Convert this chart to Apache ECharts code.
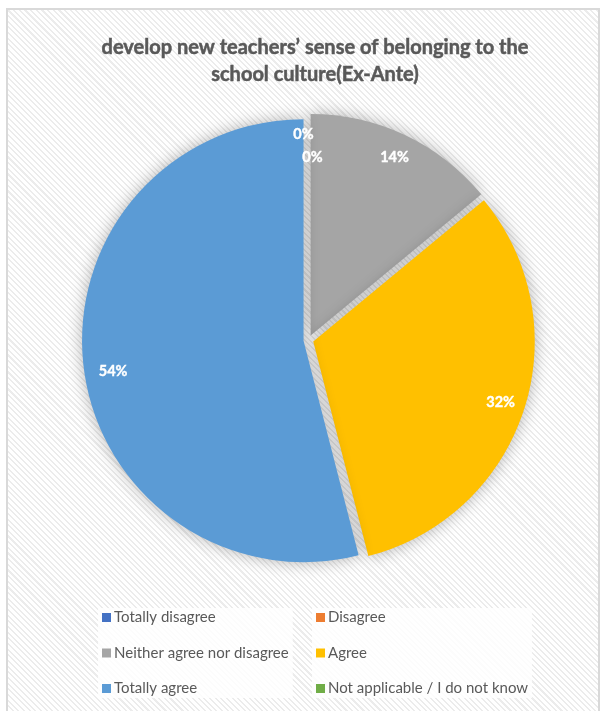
<!DOCTYPE html>
<html>
<head>
<meta charset="utf-8">
<script src="https://cdn.jsdelivr.net/npm/echarts@6/dist/echarts.min.js"></script>
<style>
  html, body { margin: 0; padding: 0; background: #ffffff; }
  #frame {
    position: absolute; left: 6px; top: 8px; width: 594px; height: 710px;
    border: 2px solid #d9d9d9; box-sizing: border-box;
    background: repeating-linear-gradient(45deg, #ffffff 0px, #ffffff 2.5px, #ececec 2.5px, #ececec 4px);
  }
  #chart { position: absolute; left: 0; top: 0; width: 606px; height: 711px; }
</style>
</head>
<body>
<div id="frame"></div>
<div id="chart"></div>
<script>
const titleText = "develop new teachers’ sense of belonging to the\nschool culture(Ex-Ante)";
const categories = ["Totally disagree", "Disagree", "Neither agree nor disagree", "Agree", "Totally agree", "Not applicable / I do not know"];
const values = [0, 0, 14, 32, 54, 0];
const colors = ["#4472C4", "#ED7D31", "#A5A5A5", "#FFC000", "#5B9BD5", "#70AD47"];
const labelOffsets = [[-5, -4], [4, 19], [0, 0], [0, 0], [5, 6], [-5, -4]];

const chart = echarts.init(document.getElementById('chart'), null, { renderer: 'canvas' });

const center = [308.5, 340];

const mainData = categories.map((c, i) => ({
  name: c, value: values[i], selected: true,
  itemStyle: { color: colors[i] }
}));
const labelData = categories.map((c, i) => ({
  name: c, value: values[i],
  label: { offset: labelOffsets[i] }
}));

const legendText = { fontFamily: 'Lato', fontSize: 15, color: '#595959', padding: [0, 0, 0, -2] };

chart.setOption({
  animation: false,
  backgroundColor: 'transparent',
  title: {
    text: titleText,
    left: 310, top: 29, textAlign: 'center',
    textStyle: { fontFamily: 'Lato', fontSize: 20, fontWeight: 'bold', color: '#595959', lineHeight: 27,
                 textBorderColor: '#595959', textBorderWidth: 0.5 }
  },
  legend: [
    {
      orient: 'vertical', left: 98, top: 608, itemGap: 20.5,
      itemWidth: 9, itemHeight: 9, icon: 'rect',
      textStyle: legendText,
      backgroundColor: 'rgba(255,255,255,0.85)',
      padding: [2, 4, 2, 4],
      data: [0, 2, 4].map(i => ({ name: categories[i], itemStyle: { color: colors[i] } }))
    },
    {
      orient: 'vertical', left: 312, top: 608, itemGap: 20.5,
      itemWidth: 9, itemHeight: 9, icon: 'rect',
      textStyle: legendText,
      backgroundColor: 'rgba(255,255,255,0.85)',
      padding: [2, 4, 2, 4],
      data: [1, 3, 5].map(i => ({ name: categories[i], itemStyle: { color: colors[i] } }))
    }
  ],
  series: [
    {
      type: 'pie',
      center: center,
      radius: [0, 221.5],
      startAngle: 90,
      clockwise: true,
      selectedMode: 'multiple',
      selectedOffset: 5,
      avoidLabelOverlap: false,
      label: { show: false },
      labelLine: { show: false },
      emphasis: { disabled: true },
      itemStyle: { shadowBlur: 16, shadowColor: 'rgba(0,0,0,0.3)' },
      data: mainData
    },
    {
      type: 'pie',
      center: center,
      radius: [0, 398],
      startAngle: 90,
      clockwise: true,
      silent: true,
      z: 5,
      avoidLabelOverlap: false,
      itemStyle: { color: 'rgba(0,0,0,0)' },
      emphasis: { disabled: true },
      label: {
        show: true, position: 'inside',
        fontFamily: 'Lato', fontSize: 14.5, fontWeight: 'bold', color: '#ffffff',
        textBorderColor: '#ffffff', textBorderWidth: 0.4,
        formatter: p => Math.round(p.value) + '%'
      },
      labelLine: { show: false },
      data: labelData
    }
  ]
});
</script>
</body>
</html>
